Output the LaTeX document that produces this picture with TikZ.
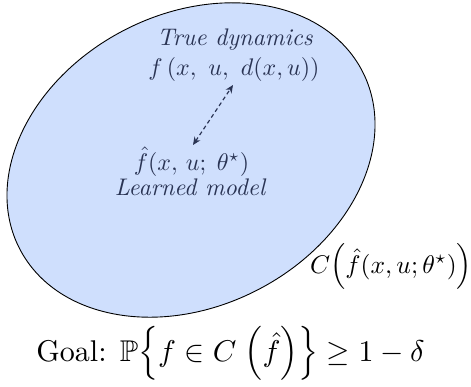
\documentclass[tikz,border=0pt]{standalone}
\usepackage{amsmath,amssymb}
\usetikzlibrary{shapes.geometric,arrows.meta}
\definecolor{setfill}{RGB}{207,223,253}
\definecolor{navy}{RGB}{42,52,84}
\tikzset{
  inner/.style={text=navy, inner sep=0pt, anchor=base},
  outer/.style={text=black, inner sep=0pt, anchor=base},
}
\newcommand{\insz}[1]{\scalebox{2.4}{#1}}
\newcommand{\csz}[1]{\scalebox{2.55}{#1}}
\newcommand{\gsz}[1]{\scalebox{3.0}{#1}}
\begin{document}
\begin{tikzpicture}[x=1pt,y=-1pt]
\useasboundingbox (0,0) rectangle (471,386);
\node[ellipse, draw=black, line width=0.9pt, fill=setfill, minimum width=386pt, minimum height=292pt, inner sep=0pt, rotate=27.5] (set) at (191,160) {};
\node[inner] (truelbl) at (235,45) {\insz{\itshape True dynamics}};
\node[inner] (truef) at (234,75) {\insz{$f\left(x,\ u,\ d(x,u)\right)$}};
\node[inner] (fhat) at (191.5,170) {\insz{$\hat f(x,\,u;\;\theta^\star)$}};
\node[inner] (learned) at (190,195) {\insz{\itshape Learned model}};
\coordinate (atop) at (233,85);
\coordinate (abot) at (193,145);
\draw[navy, line width=1.2pt, dash pattern=on 4pt off 3pt, {Stealth[length=8pt,width=7pt]}-{Stealth[length=8pt,width=7pt]}] (abot) -- (atop);
\node[outer] (clbl) at (391,273) {\csz{$C\Big(\hat f(x,u;\theta^\star)\Big)$}};
\node[outer] (goal) at (230.5,361) {\gsz{Goal: $\mathbb{P}\Big\{f\in C\;\Big(\hat f\Big)\Big\}\geq 1-\delta$}};
\end{tikzpicture}
\end{document}
